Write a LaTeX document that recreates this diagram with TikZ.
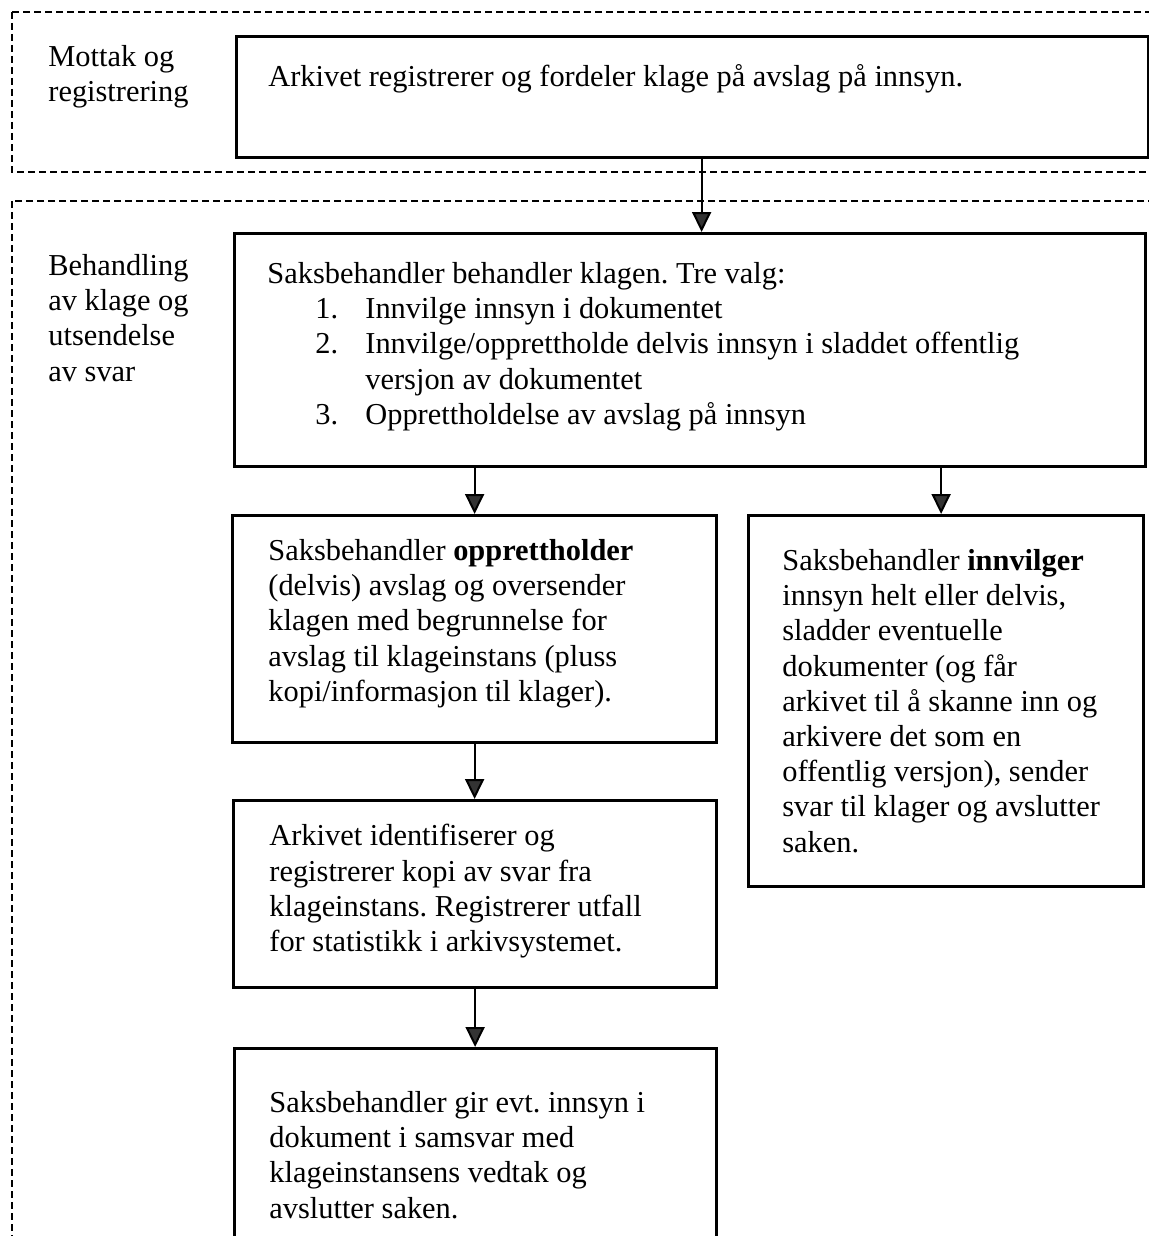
\documentclass[tikz,border=0pt]{standalone}
\usepackage{fontspec}
\setmainfont{Liberation Serif}
\usetikzlibrary{arrows.meta}
\tikzstyle{stage}=[draw,line width=1.6pt,anchor=north west,inner sep=0pt]
\tikzstyle{say}=[anchor=north west,inner sep=0pt,align=left,font=\fontsize{15.2}{17.6}\selectfont\frenchspacing]
\tikzstyle{phase}=[draw,line width=0.7pt,dash pattern=on 3.5pt off 2pt]
\tikzstyle{flow}=[line width=1pt,-{Triangle[width=9.5pt,length=10pt,fill=black!80]}]
\newcommand{\itm}[1]{\hspace*{24pt}\makebox[25pt][l]{#1}}

\begin{document}
\begin{tikzpicture}[x=0.5pt,y=-0.5pt]
\useasboundingbox (0,0) rectangle (1149,1236);
\clip (0,0) rectangle (1149,1236);

% the two phases
\draw[phase] (12,12) rectangle (1170,172);
\draw[phase] (12,201) rectangle (1170,1270);
\node[say] (mottak-lbl) at (48,45) {Mottak og\\registrering};
\node[say] (beh-lbl) at (48,254) {Behandling\\av klage og\\utsendelse\\av svar};

% boxes
\node[stage,minimum width=456pt,minimum height=60.5pt] (arkiv) at (235,35) {};
\node[stage,minimum width=455.5pt,minimum height=116.5pt] (behandle) at (233,232) {};
\node[stage,minimum width=242pt,minimum height=113.5pt] (oppr) at (231,514) {};
\node[stage,minimum width=197.5pt,minimum height=185.5pt] (innv) at (747,514) {};
\node[stage,minimum width=241.5pt,minimum height=93.5pt] (arkiv2) at (232,799) {};
\node[stage,minimum width=241pt,minimum height=115pt] (avslutt) at (233,1047) {};

% texts
\node[say] (arkiv-txt) at ([shift={(33,29)}]arkiv.north west)
  {Arkivet registrerer og fordeler klage på avslag på innsyn.};
\node[say] (behandle-txt) at ([shift={(34,30)}]behandle.north west)
  {Saksbehandler behandler klagen. Tre valg:\\
   \itm{1.}Innvilge innsyn i dokumentet\\
   \itm{2.}Innvilge/opprettholde delvis innsyn i sladdet offentlig\\
   \itm{}versjon av dokumentet\\
   \itm{3.}Opprettholdelse av avslag på innsyn};
\node[say] (oppr-txt) at ([shift={(37,25)}]oppr.north west)
  {Saksbehandler \textbf{opprettholder}\\(delvis) avslag og oversender\\klagen med begrunnelse for\\avslag til klageinstans (pluss\\kopi/informasjon til klager).};
\node[say] (innv-txt) at ([shift={(35,35)}]innv.north west)
  {Saksbehandler \textbf{innvilger}\\innsyn helt eller delvis,\\sladder eventuelle\\dokumenter (og får\\arkivet til å skanne inn og\\arkivere det som en\\offentlig versjon), sender\\svar til klager og avslutter\\saken.};
\node[say] (arkiv2-txt) at ([shift={(37,25)}]arkiv2.north west)
  {Arkivet identifiserer og\\registrerer kopi av svar fra\\klageinstans. Registrerer utfall\\for statistikk i arkivsystemet.};
\node[say] (avslutt-txt) at ([shift={(36,44)}]avslutt.north west)
  {Saksbehandler gir evt. innsyn i\\dokument i samsvar med\\klageinstansens vedtak og\\avslutter saken.};

% arrows
\draw[flow] ([xshift=4.5pt]arkiv.south) coordinate (a1) -- (a1 |- behandle.north);
\draw[flow] (oppr.north |- behandle.south) -- (oppr.north);
\draw[flow] ([xshift=-2.5pt]innv.north |- behandle.south) coordinate (a3) -- (a3 |- innv.north);
\draw[flow] (oppr.south) -- (oppr.south |- arkiv2.north);
\draw[flow] (arkiv2.south) -- (arkiv2.south |- avslutt.north);
\end{tikzpicture}
\end{document}
